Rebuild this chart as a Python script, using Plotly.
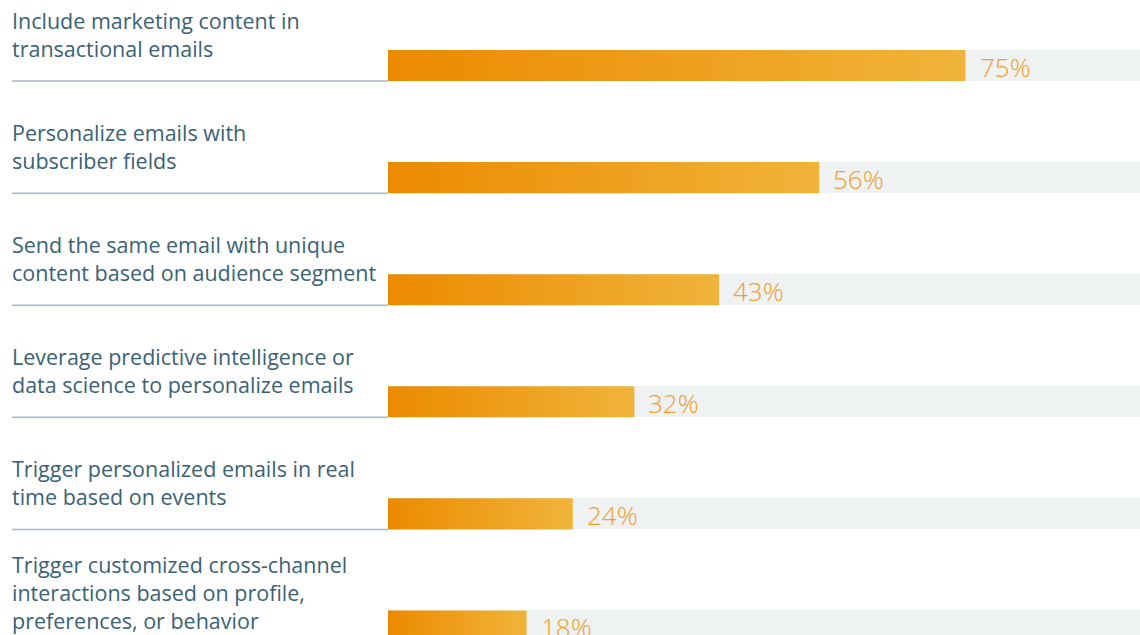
import plotly.graph_objects as go

categories = [
    "Include marketing content in<br>transactional emails",
    "Personalize emails with<br>subscriber fields",
    "Send the same email with unique<br>content based on audience segment",
    "Leverage predictive intelligence or<br>data science to personalize emails",
    "Trigger personalized emails in real<br>time based on events",
    "Trigger customized cross-channel<br>interactions based on profile,<br>preferences, or behavior",
]
values = [75, 56, 43, 32, 24, 18]
value_labels = ["75%", "56%", "43%", "32%", "24%", "18%"]
full = [100] * len(values)

W, H = 1140, 635
x0_px = 388
px_per_pct = 7.70
bar_h = 0.277
label_color = "#3A6275"
pct_color = "#EF9E28"

fig = go.Figure()
ys = list(range(len(values)))

fig.add_trace(go.Bar(
    x=full, y=ys, orientation="h", width=bar_h,
    marker=dict(color="#EFF2F3", line=dict(width=0)),
    hoverinfo="skip", showlegend=False,
))

for i, v in enumerate(values):
    h = bar_h / 2
    fig.add_trace(go.Scatter(
        x=[0, v, v, 0, 0], y=[i - h, i - h, i + h, i + h, i - h],
        mode="lines", fill="toself", line=dict(width=0),
        fillgradient=dict(type="horizontal",
                          colorscale=[[0, "#EC8A00"], [1, "#F0B43A"]]),
        hoverinfo="skip", showlegend=False,
    ))
    fig.add_annotation(
        x=v, y=i, xref="x", yref="y", text=value_labels[i],
        showarrow=False, xanchor="left", yanchor="middle", xshift=12, yshift=-1,
        font=dict(family="Open Sans", size=26, color=pct_color, weight=300),
    )
    fig.add_annotation(
        x=10 / W, y=i, xref="paper", yref="y", text=categories[i],
        showarrow=False, xanchor="left", yanchor="middle", align="left",
        yshift=31 if i < 5 else 34,
        font=dict(family="Open Sans", size=21.5, color=label_color),
    )
    fig.add_shape(
        type="line", xref="paper", yref="y",
        x0=12 / W, x1=x0_px / W, y0=i + h, y1=i + h,
        line=dict(color="#A8B8C8", width=1.5),
    )

# axis range from pixel geometry
xmax = (W - x0_px) / px_per_pct
spacing = 112.1
top = -65.5 / spacing
bottom = 5 + (H - 626) / spacing

fig.update_layout(
    width=W, height=H,
    margin=dict(l=0, r=0, t=0, b=0),
    paper_bgcolor="white", plot_bgcolor="white",
    xaxis=dict(domain=[x0_px / W, 1], range=[0, xmax], visible=False, fixedrange=True),
    yaxis=dict(range=[bottom, top], visible=False, fixedrange=True),
    bargap=0,
)

fig.write_html("out.html", config={"displayModeBar": False})
